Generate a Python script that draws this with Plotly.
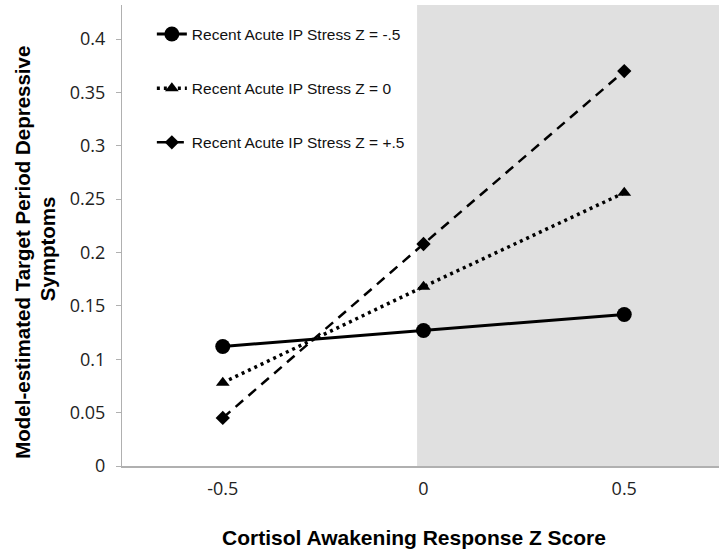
import plotly.graph_objects as go

x_vals = [-0.5, 0, 0.5]
stress_neg = [0.112, 0.127, 0.142]
stress_zero = [0.078, 0.168, 0.256]
stress_pos = [0.045, 0.208, 0.370]
names = ["Recent Acute IP Stress Z = -.5", "Recent Acute IP Stress Z = 0", "Recent Acute IP Stress Z = +.5"]
y_ticks = [0, 0.05, 0.1, 0.15, 0.2, 0.25, 0.3, 0.35, 0.4]
y_tick_text = ["0", "0.05", "0.1", "0.15", "0.2", "0.25", "0.3", "0.35", "0.4"]
x_tick_text = ["-0.5", "0", "0.5"]

fig = go.Figure()
fig.add_trace(go.Scatter(x=x_vals, y=stress_neg, name=names[0], mode="lines+markers",
                         line=dict(color="black", width=3),
                         marker=dict(symbol="circle", size=15, color="black"),
                         legendgroup="a"))
fig.add_trace(go.Scatter(x=x_vals, y=stress_zero, name=names[1], mode="lines+markers",
                         line=dict(color="black", width=3.5, dash="3px,4px"),
                         marker=dict(symbol="triangle-up", size=12, color="black"),
                         legendgroup="b"))
fig.add_trace(go.Scatter(x=x_vals, y=stress_pos, name=names[2], mode="lines+markers",
                         line=dict(color="black", width=2.5, dash="10px,7px"),
                         marker=dict(symbol="diamond", size=11, color="black"),
                         legendgroup="c"))

fig.add_shape(type="rect", xref="x", yref="paper", x0=-0.016, x1=0.736, y0=0, y1=1,
              fillcolor="#e0e0e0", line=dict(width=0), layer="below")

tick_font = dict(size=18, family="Open Sans, Liberation Sans, sans-serif", color="#222")
fig.update_layout(
    width=719, height=552,
    margin=dict(l=122, r=0, t=5, b=86, autoexpand=False),
    paper_bgcolor="white", plot_bgcolor="white",
    font=dict(family="Liberation Sans, Arial, sans-serif", color="black"),
    showlegend=True,
    legend=dict(x=0.05, y=0.973, xanchor="left", yanchor="top",
                bgcolor="rgba(0,0,0,0)", font=dict(size=15.5, color="#111"),
                traceorder="grouped", tracegroupgap=31, itemwidth=30),
    xaxis=dict(range=[-0.751, 0.736], tickvals=x_vals, ticktext=x_tick_text,
               showgrid=False, zeroline=False, showline=True, linecolor="#b0b0b0",
               linewidth=1.5, ticks="", ticklabelstandoff=6, automargin=False,
               tickfont=tick_font),
    yaxis=dict(range=[0, 0.4319], tickvals=y_ticks, ticktext=y_tick_text,
               showgrid=False, zeroline=False, showline=True, linecolor="#b0b0b0",
               linewidth=1, ticks="outside", ticklen=5, tickcolor="#b0b0b0",
               ticklabelstandoff=7, automargin=False,
               tickfont=tick_font),
)

title_font = dict(size=20.5, family="Liberation Sans, Arial, sans-serif", color="black")
fig.add_annotation(text="<b>Model-estimated Target Period Depressive</b>",
                   xref="paper", yref="paper", x=-0.168, y=0.464, showarrow=False,
                   textangle=-90, font=title_font, xanchor="center", yanchor="middle")
fig.add_annotation(text="<b>Symptoms</b>",
                   xref="paper", yref="paper", x=-0.1256, y=0.47, showarrow=False,
                   textangle=-90, font=title_font, xanchor="center", yanchor="middle")
fig.add_annotation(text="<b>Cortisol Awakening Response Z Score</b>",
                   xref="paper", yref="paper", x=0.489, y=-0.156, showarrow=False,
                   font=dict(size=21, family="Liberation Sans, Arial, sans-serif", color="black"),
                   xanchor="center", yanchor="middle")

fig.write_html("out.html", config={"displayModeBar": False},
               post_script="document.body.style.margin='0px';")
